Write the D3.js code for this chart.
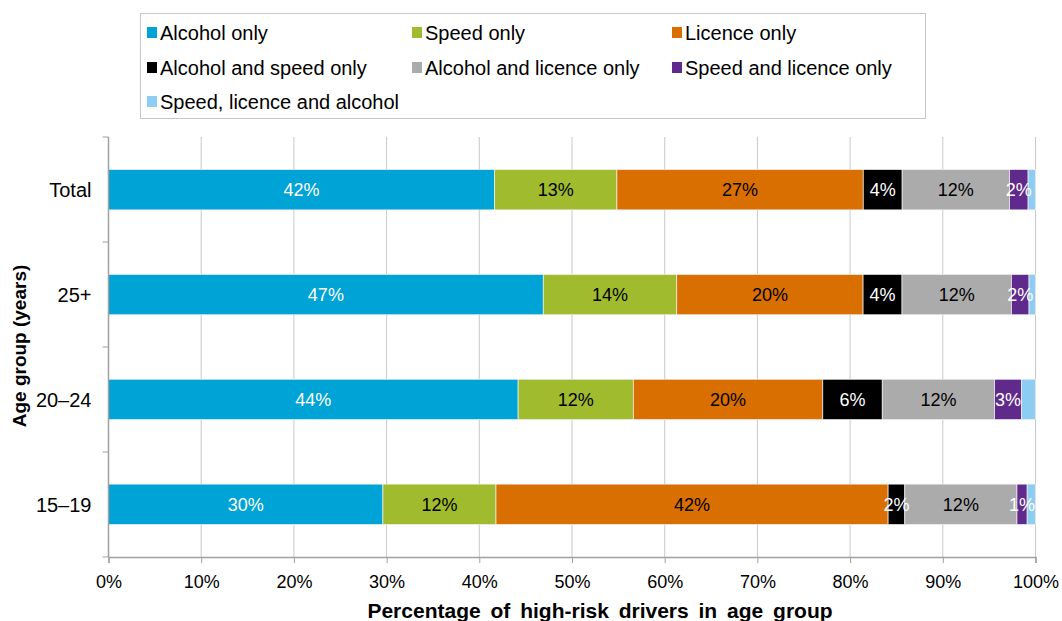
<!DOCTYPE html>
<html>
<head>
<meta charset="utf-8">
<script src="https://cdn.jsdelivr.net/npm/d3@7"></script>
<style>
  html, body { margin: 0; padding: 0; background: #ffffff; }
  svg { display: block; font-family: "Liberation Sans", Arial, sans-serif; }
</style>
</head>
<body>
<svg id="chart" width="1062" height="621"></svg>
<script>
// Age groups, top to bottom
const categories = ["Total", "25+", "20–24", "15–19"];

// Offence combination series (percent of high-risk drivers in each age group)
const seriesNames = [
  "Alcohol only", "Speed only", "Licence only",
  "Alcohol and speed only", "Alcohol and licence only", "Speed and licence only",
  "Speed, licence and alcohol"
];
const alcoholOnly        = [41.7, 46.9, 44.1, 29.6];
const speedOnly          = [13.2, 14.4, 12.4, 12.2];
const licenceOnly        = [26.6, 20.1, 20.4, 42.3];
const alcoholSpeedOnly   = [4.2, 4.2, 6.4, 1.8];
const alcoholLicenceOnly = [11.6, 11.8, 12.1, 12.1];
const speedLicenceOnly   = [2.0, 1.9, 2.9, 1.1];
const speedLicenceAlcohol = [0.8, 0.7, 1.5, 0.9];

const xTickLabels = ["0%", "10%", "20%", "30%", "40%", "50%", "60%", "70%", "80%", "90%", "100%"];

const seriesValues = [alcoholOnly, speedOnly, licenceOnly, alcoholSpeedOnly,
  alcoholLicenceOnly, speedLicenceOnly, speedLicenceAlcohol];
const colors = ["#00a3d6", "#a0bb2e", "#d86f00", "#000000", "#ababab", "#60298c", "#8dcdf3"];
const labelColors = ["#ffffff", "#000000", "#000000", "#ffffff", "#000000", "#ffffff", null];

// Table built from the arrays for d3.stack
const rows = categories.map((c, i) => {
  const r = { category: c };
  seriesNames.forEach((s, j) => { r[s] = seriesValues[j][i]; });
  return r;
});

const stacked = d3.stack()
  .keys(seriesNames)
  .offset(d3.stackOffsetExpand)(rows);

const svg = d3.select("#chart");
const plot = { left: 108.5, right: 1035.5, top: 137, bottom: 557 };

const x = d3.scaleLinear().domain([0, 1]).range([plot.left, plot.right]);
const y = d3.scaleBand().domain(categories).range([plot.top, plot.bottom]).paddingInner(0.615).paddingOuter(0.31);

// Vertical gridlines
svg.append("g")
  .selectAll("line")
  .data(d3.range(1, 11).map(d => d / 10))
  .join("line")
  .attr("x1", d => x(d)).attr("x2", d => x(d))
  .attr("y1", plot.top).attr("y2", plot.bottom)
  .attr("stroke", "#c9c9c9").attr("stroke-width", 1);

// Stacked bars
const layer = svg.append("g")
  .selectAll("g")
  .data(stacked)
  .join("g")
  .attr("fill", (d, i) => colors[i]);

layer.selectAll("rect")
  .data(d => d)
  .join("rect")
  .attr("x", d => x(d[0]))
  .attr("width", d => x(d[1]) - x(d[0]))
  .attr("y", d => y(d.data.category))
  .attr("height", y.bandwidth())
  .attr("stroke", "#f2f2f2")
  .attr("stroke-width", 0.7);

// Value labels
svg.append("g")
  .selectAll("g")
  .data(stacked)
  .join("g")
  .each(function (series, i) {
    if (!labelColors[i]) return;
    d3.select(this).selectAll("text")
      .data(series)
      .join("text")
      .attr("x", d => (x(d[0]) + x(d[1])) / 2)
      .attr("y", d => y(d.data.category) + y.bandwidth() / 2)
      .attr("dy", "0.36em")
      .attr("text-anchor", "middle")
      .attr("font-size", 18)
      .attr("fill", labelColors[i])
      .text(d => Math.round(d.data[series.key]) + "%");
  });

// X axis
const xAxis = svg.append("g")
  .attr("transform", `translate(0,${plot.bottom})`)
  .call(d3.axisBottom(x).tickValues(d3.range(0, 11).map(d => d / 10))
    .tickFormat((d, i) => xTickLabels[i]).tickSize(6).tickPadding(12));
xAxis.select(".domain").attr("stroke", "#a0a0a0").attr("stroke-width", 1.5);
xAxis.selectAll(".tick line").attr("stroke", "#a0a0a0");
xAxis.selectAll(".tick text").attr("font-size", 18).attr("fill", "#000");
xAxis.attr("font-family", null);

// Y axis: tick marks on category boundaries, labels at band centres
const yAxisG = svg.append("g");
yAxisG.append("line")
  .attr("x1", plot.left).attr("x2", plot.left)
  .attr("y1", plot.top).attr("y2", plot.bottom)
  .attr("stroke", "#a0a0a0").attr("stroke-width", 1.5);
yAxisG.selectAll("line.tick")
  .data(d3.range(0, categories.length + 1))
  .join("line")
  .attr("class", "tick")
  .attr("x1", plot.left - 6).attr("x2", plot.left)
  .attr("y1", d => plot.top + d * (plot.bottom - plot.top) / categories.length)
  .attr("y2", d => plot.top + d * (plot.bottom - plot.top) / categories.length)
  .attr("stroke", "#a0a0a0");
yAxisG.selectAll("text")
  .data(categories)
  .join("text")
  .attr("x", plot.left - 17)
  .attr("y", d => y(d) + y.bandwidth() / 2)
  .attr("dy", "0.36em")
  .attr("text-anchor", "end")
  .attr("font-size", 20)
  .text(d => d);

// Axis titles
svg.append("text")
  .attr("x", (plot.left + plot.right) / 2 + 28)
  .attr("y", 618)
  .attr("text-anchor", "middle")
  .attr("font-size", 21)
  .attr("font-weight", "bold")
  .attr("word-spacing", 4)
  .text("Percentage of high-risk drivers in age group");

svg.append("text")
  .attr("transform", "translate(26,346) rotate(-90)")
  .attr("text-anchor", "middle")
  .attr("font-size", 19)
  .attr("font-weight", "bold")
  .text("Age group (years)");

// Legend
const legend = svg.append("g");
legend.append("rect")
  .attr("x", 140.5).attr("y", 13.5).attr("width", 785).attr("height", 105)
  .attr("fill", "#ffffff").attr("stroke", "#c6c6c6");
const colX = [147, 412, 672];
const rowY = [33, 68, 102];
const items = legend.selectAll("g.item")
  .data(seriesNames)
  .join("g")
  .attr("class", "item")
  .attr("transform", (d, i) => `translate(${colX[i % 3]},${rowY[Math.floor(i / 3)]})`);
items.append("rect")
  .attr("x", 0).attr("y", -6).attr("width", 10).attr("height", 11)
  .attr("fill", (d, i) => colors[i]);
items.append("text")
  .attr("x", 13).attr("y", 0).attr("dy", "0.36em")
  .attr("font-size", 20)
  .text(d => d);
</script>
</body>
</html>
